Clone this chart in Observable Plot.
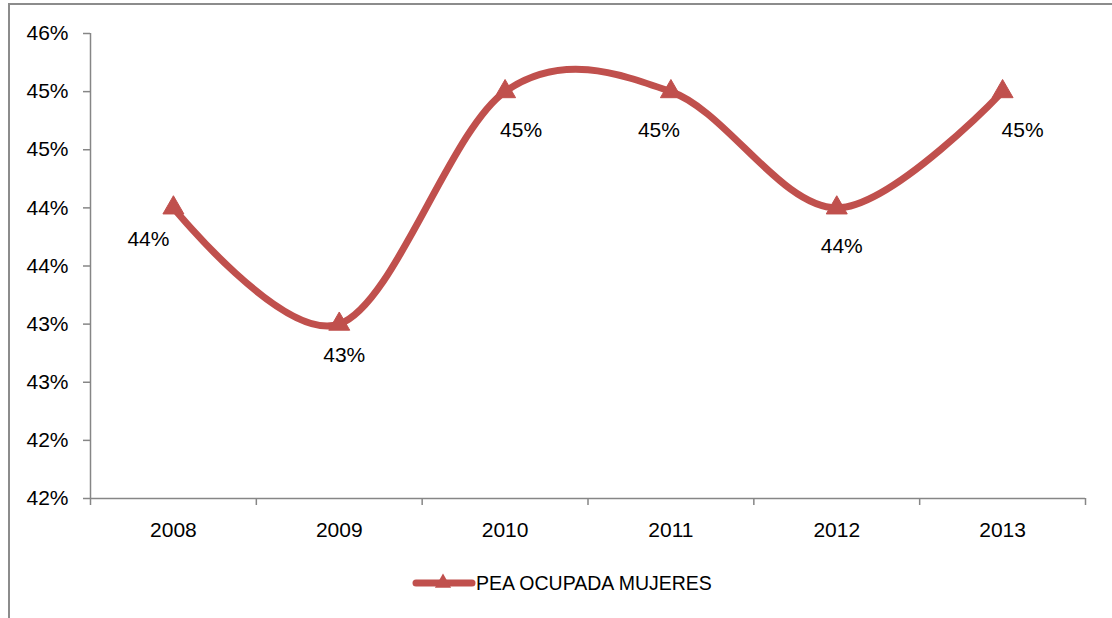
<!DOCTYPE html>
<html>
<head>
<meta charset="utf-8">
<script src="https://cdn.jsdelivr.net/npm/d3@7"></script>
<script src="https://cdn.jsdelivr.net/npm/@observablehq/plot@0.6"></script>
<style>
  html, body { margin: 0; padding: 0; background: #fff; }
  #wrap { position: relative; width: 1112px; height: 618px; overflow: hidden; font-family: "Liberation Sans", Arial, sans-serif; }
  #border { position: absolute; left: 8px; top: 3px; width: 1120px; height: 640px; border-left: 2px solid #8c8c8c; border-top: 2px solid #8c8c8c; box-sizing: border-box; }
  #chart { position: absolute; left: 0; top: 0; }
  #legend { position: absolute; left: 412px; top: 570px; display: flex; align-items: center; font-size: 19.5px; color: #000; white-space: nowrap; }
</style>
</head>
<body>
<div id="wrap">
  <div id="border"></div>
  <div id="chart"></div>
  <div id="legend"></div>
</div>
<script>
const seriesName = "PEA OCUPADA MUJERES";
const years = [2008, 2009, 2010, 2011, 2012, 2013];
const values = [44.0, 43.0, 45.0, 45.0, 44.0, 45.0];
const yTicks = [41.5, 42, 42.5, 43, 43.5, 44, 44.5, 45, 45.5];

// label placement (layout only)
const labelDx = [-25, 5, 16, -12, 5, 20];
const labelDy = [38, 38, 45, 45, 45, 45];

const color = "#C0504D";
const data = years.map((year, i) => ({year, value: values[i], i}));
const bounds = [...years.map(y => y - 0.5), years[years.length - 1] + 0.5];

const plot = Plot.plot({
  width: 1112,
  height: 540,
  marginLeft: 90,
  marginRight: 27,
  marginTop: 33,
  marginBottom: 42,
  style: {fontFamily: "Liberation Sans, Arial, sans-serif", fontSize: "21px", color: "#000", background: "transparent"},
  x: {domain: [bounds[0], bounds[bounds.length - 1]], label: null},
  y: {domain: [yTicks[0], yTicks[yTicks.length - 1]], label: null},
  marks: [
    Plot.ruleX([bounds[0]], {stroke: "#868686", strokeWidth: 1.5}),
    Plot.ruleY([yTicks[0]], {stroke: "#868686", strokeWidth: 1.5}),
    Plot.axisY({ticks: yTicks, tickFormat: d => Math.round(d) + "%", tickSize: 7, tickPadding: 15, stroke: "#868686", strokeWidth: 1.5, fill: "#000", label: null}),
    Plot.axisX({ticks: bounds, tickFormat: () => "", tickSize: 7, stroke: "#868686", strokeWidth: 1.5, label: null}),
    Plot.axisX({ticks: years, tickFormat: d => String(d), tickSize: 0, tickPadding: 24, fill: "#000", label: null}),
    Plot.line(data, {x: "year", y: "value", curve: "cardinal", stroke: color, strokeWidth: 7, strokeLinecap: "round", strokeLinejoin: "round"}),
    Plot.dot(data, {x: "year", y: "value", symbol: "triangle", r: 7.8, fill: color, stroke: color, strokeWidth: 1}),
    Plot.text(data, {
      x: "year", y: "value",
      text: d => Math.round(d.value) + "%",
      fill: "#000",
      render: (index, scales, values, dims, context, next) => {
        const g = next(index, scales, values, dims, context);
        d3.select(g).selectAll("text").each(function(_, k) {
          const i = index[k];
          d3.select(this).attr("transform", `translate(${values.x[i] + labelDx[i]},${values.y[i] + labelDy[i]})`).attr("x", null).attr("y", null);
        });
        return g;
      }
    })
  ]
});
document.getElementById("chart").appendChild(plot);

// legend
const legend = document.getElementById("legend");
const ls = d3.create("svg").attr("width", 64).attr("height", 26);
ls.append("line").attr("x1", 4).attr("x2", 60).attr("y1", 13).attr("y2", 13)
  .attr("stroke", color).attr("stroke-width", 7).attr("stroke-linecap", "round");
ls.append("path").attr("d", d3.symbol(d3.symbolTriangle, Math.PI * 7.8 * 7.8 * 0.6)()).attr("transform", "translate(31,13)").attr("fill", color);
legend.appendChild(ls.node());
const lt = document.createElement("span");
lt.textContent = seriesName;
legend.appendChild(lt);
</script>
</body>
</html>
